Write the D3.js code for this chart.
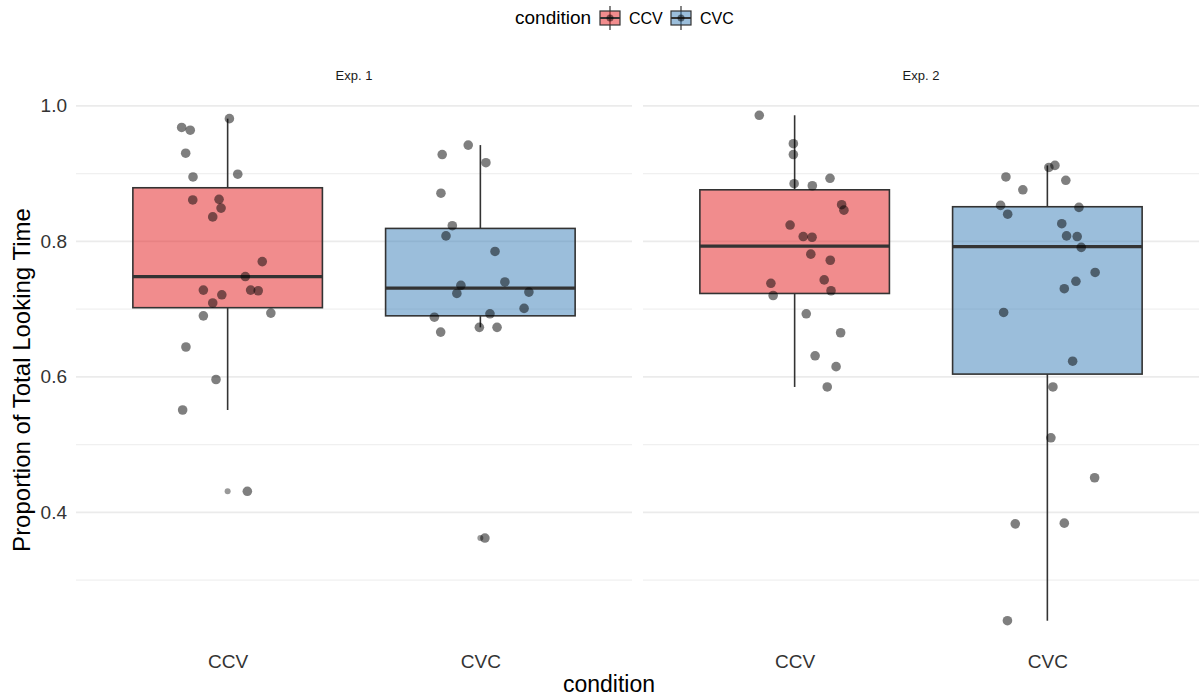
<!DOCTYPE html>
<html>
<head>
<meta charset="utf-8">
<script src="https://cdn.jsdelivr.net/npm/d3@7"></script>
<style>
  body { margin: 0; background: #fff; }
  text { font-family: "Liberation Sans", Arial, sans-serif; }
</style>
</head>
<body>
<div class="graph"></div>
<script>
// Facets and categories
var experiments = ["Exp. 1", "Exp. 2"];
var conditions = ["CCV", "CVC"];
var colors = ["#E41A1C", "#377EB8"];

// Individual proportions (jitter = horizontal offset in category units)
var exp1CCV = [0.968, 0.964, 0.981, 0.930, 0.895, 0.899, 0.861, 0.862, 0.849, 0.836, 0.770, 0.748,
               0.728, 0.721, 0.709, 0.728, 0.727, 0.690, 0.694, 0.644, 0.596, 0.551, 0.431];
var exp1CCVJitter = [-0.182, -0.148, 0.007, -0.166, -0.137, 0.040, -0.138, -0.034, -0.026, -0.059, 0.137, 0.070,
                     -0.096, -0.023, -0.059, 0.091, 0.121, -0.096, 0.171, -0.165, -0.046, -0.178, 0.078];
var exp1CVC = [0.942, 0.928, 0.916, 0.871, 0.823, 0.808, 0.785, 0.735, 0.740, 0.723, 0.725, 0.701,
               0.693, 0.688, 0.666, 0.673, 0.673, 0.362];
var exp1CVCJitter = [-0.048, -0.151, 0.022, -0.156, -0.111, -0.136, 0.058, -0.077, 0.097, -0.093, 0.192, 0.173,
                     0.038, -0.182, -0.157, -0.004, 0.066, 0.018];
var exp2CCV = [0.986, 0.944, 0.928, 0.893, 0.885, 0.882, 0.854, 0.846, 0.824, 0.807, 0.806, 0.781,
               0.772, 0.738, 0.743, 0.727, 0.720, 0.693, 0.665, 0.631, 0.615, 0.585];
var exp2CCVJitter = [-0.140, -0.005, -0.005, 0.140, -0.002, 0.070, 0.186, 0.195, -0.018, 0.034, 0.069, 0.064,
                     0.141, -0.094, 0.117, 0.144, -0.085, 0.046, 0.182, 0.081, 0.164, 0.129];
var exp2CVC = [0.909, 0.912, 0.895, 0.890, 0.876, 0.853, 0.850, 0.840, 0.826, 0.808, 0.807, 0.791,
               0.754, 0.741, 0.730, 0.695, 0.623, 0.585, 0.510, 0.451, 0.383, 0.384, 0.240];
var exp2CVCJitter = [0.006, 0.030, -0.164, 0.073, -0.097, -0.185, 0.125, -0.157, 0.057, 0.076, 0.118, 0.134,
                     0.189, 0.113, 0.067, -0.173, 0.100, 0.022, 0.014, 0.187, -0.127, 0.067, -0.158];

// Box statistics: [lower whisker, q1, median, q3, upper whisker]
var exp1Boxes = [[0.551, 0.702, 0.748, 0.879, 0.981], [0.673, 0.690, 0.731, 0.819, 0.942]];
var exp2Boxes = [[0.585, 0.723, 0.793, 0.876, 0.986], [0.240, 0.604, 0.792, 0.851, 0.912]];
var exp1Outliers = [[0.431], [0.362]];
var exp2Outliers = [[], []];

var yTicks = [0.4, 0.6, 0.8, 1.0];
var yMinor = [0.3, 0.5, 0.7, 0.9];

// Build per-panel structure
var panelData = [
  { name: experiments[0], boxes: exp1Boxes, outliers: exp1Outliers,
    points: [[exp1CCV, exp1CCVJitter], [exp1CVC, exp1CVCJitter]] },
  { name: experiments[1], boxes: exp2Boxes, outliers: exp2Outliers,
    points: [[exp2CCV, exp2CCVJitter], [exp2CVC, exp2CVCJitter]] }
];

// Layout
var W = 1200, H = 697;
var margin = {top: 90, right: 1, bottom: 51, left: 76},
    gap = 11,
    panelW = (W - margin.left - margin.right - gap) / 2,
    panelH = H - margin.top - margin.bottom;

var svg = d3.select(".graph").append("svg")
    .attr("width", W)
    .attr("height", H);

// Y scale with ggplot-style 5% expansion
var allVals = [].concat(exp1CCV, exp1CVC, exp2CCV, exp2CVC);
var ext = d3.extent(allVals);
var pad = (ext[1] - ext[0]) * 0.05;
var y = d3.scaleLinear()
    .domain([ext[0] - pad, ext[1] + pad])
    .range([panelH, 0]);

var x = d3.scalePoint()
    .domain(conditions)
    .range([0, panelW])
    .padding(0.6);
var boxW = x.step() * 0.75;

var color = d3.scaleOrdinal().domain(conditions).range(colors);

panelData.forEach(function(p, i) {
  var g = svg.append("g")
      .attr("transform", "translate(" + (margin.left + i * (panelW + gap)) + "," + margin.top + ")");

  // grid
  g.selectAll(".minor").data(yMinor).enter().append("line")
      .attr("x1", 0).attr("x2", panelW)
      .attr("y1", function(d) { return y(d); }).attr("y2", function(d) { return y(d); })
      .attr("stroke", "#f0f0f0").attr("stroke-width", 1.2);
  g.selectAll(".major").data(yTicks).enter().append("line")
      .attr("x1", 0).attr("x2", panelW)
      .attr("y1", function(d) { return y(d); }).attr("y2", function(d) { return y(d); })
      .attr("stroke", "#ebebeb").attr("stroke-width", 1.8);

  // strip label
  svg.append("text")
      .attr("x", margin.left + i * (panelW + gap) + panelW / 2)
      .attr("y", 80)
      .attr("text-anchor", "middle")
      .attr("font-size", 13)
      .attr("fill", "#1a1a1a")
      .text(p.name);

  conditions.forEach(function(c, j) {
    var s = p.boxes[j], cx = x(c);
    // whiskers
    g.append("line")
        .attr("x1", cx).attr("x2", cx)
        .attr("y1", y(s[0])).attr("y2", y(s[1]))
        .attr("stroke", "#333").attr("stroke-width", 1.6);
    g.append("line")
        .attr("x1", cx).attr("x2", cx)
        .attr("y1", y(s[3])).attr("y2", y(s[4]))
        .attr("stroke", "#333").attr("stroke-width", 1.6);
    // box
    g.append("rect")
        .attr("x", cx - boxW / 2)
        .attr("y", y(s[3]))
        .attr("width", boxW)
        .attr("height", y(s[1]) - y(s[3]))
        .attr("fill", color(c)).attr("fill-opacity", 0.5)
        .attr("stroke", "#333").attr("stroke-width", 1.6);
    // median
    g.append("line")
        .attr("x1", cx - boxW / 2).attr("x2", cx + boxW / 2)
        .attr("y1", y(s[2])).attr("y2", y(s[2]))
        .attr("stroke", "#333").attr("stroke-width", 3.2);
    // outliers
    g.selectAll(null).data(p.outliers[j]).enter().append("circle")
        .attr("cx", cx).attr("cy", function(d) { return y(d); })
        .attr("r", 3)
        .attr("fill", "#333").attr("fill-opacity", 0.5);
  });

  // jittered points
  conditions.forEach(function(c, j) {
    var vals = p.points[j][0], jit = p.points[j][1];
    g.selectAll(null).data(vals).enter().append("circle")
        .attr("cx", function(d, k) { return x(c) + jit[k] * x.step(); })
        .attr("cy", function(d) { return y(d); })
        .attr("r", 4.8)
        .attr("fill", "#000").attr("fill-opacity", 0.5);
  });

  // x axis
  var xa = g.append("g")
      .attr("transform", "translate(0," + panelH + ")")
      .call(d3.axisBottom(x).tickSize(0).tickPadding(9));
  xa.select(".domain").remove();
  xa.selectAll("text").attr("font-size", 19).attr("fill", "#333")
      .attr("font-family", "Liberation Sans, Arial, sans-serif");

  if (i === 0) {
    var ya = g.append("g")
        .call(d3.axisLeft(y).tickValues(yTicks).tickFormat(d3.format(".1f")).tickSize(0).tickPadding(9));
    ya.select(".domain").remove();
    ya.selectAll("text").attr("font-size", 19).attr("fill", "#333")
        .attr("font-family", "Liberation Sans, Arial, sans-serif");
  }
});

// axis titles
svg.append("text")
    .attr("x", 609).attr("y", 692)
    .attr("text-anchor", "middle")
    .attr("font-size", 23)
    .attr("fill", "#000")
    .text("condition");
svg.append("text")
    .attr("transform", "translate(30,380) rotate(-90)")
    .attr("text-anchor", "middle")
    .attr("font-size", 24)
    .attr("fill", "#000")
    .text("Proportion of Total Looking Time");

// legend
var leg = svg.append("g").attr("transform", "translate(515,18)");
leg.append("text")
    .attr("x", 0).attr("y", 6)
    .attr("font-size", 19)
    .text("condition");
var keyX = [84, 155];
conditions.forEach(function(c, j) {
  var k = leg.append("g").attr("transform", "translate(" + keyX[j] + ",0)");
  k.append("line").attr("x1", 11).attr("x2", 11).attr("y1", -12).attr("y2", 12)
      .attr("stroke", "#333").attr("stroke-width", 1.2);
  k.append("rect").attr("x", 1).attr("y", -7).attr("width", 20).attr("height", 14)
      .attr("fill", color(c)).attr("fill-opacity", 0.5)
      .attr("stroke", "#333").attr("stroke-width", 1.2);
  k.append("line").attr("x1", 1).attr("x2", 21).attr("y1", 0).attr("y2", 0)
      .attr("stroke", "#333").attr("stroke-width", 2);
  k.append("circle").attr("cx", 11).attr("cy", 0).attr("r", 3.5)
      .attr("fill", "#000").attr("fill-opacity", 0.5);
  k.append("text").attr("x", 30).attr("y", 6)
      .attr("font-size", 16)
      .text(c);
});
</script>
</body>
</html>
